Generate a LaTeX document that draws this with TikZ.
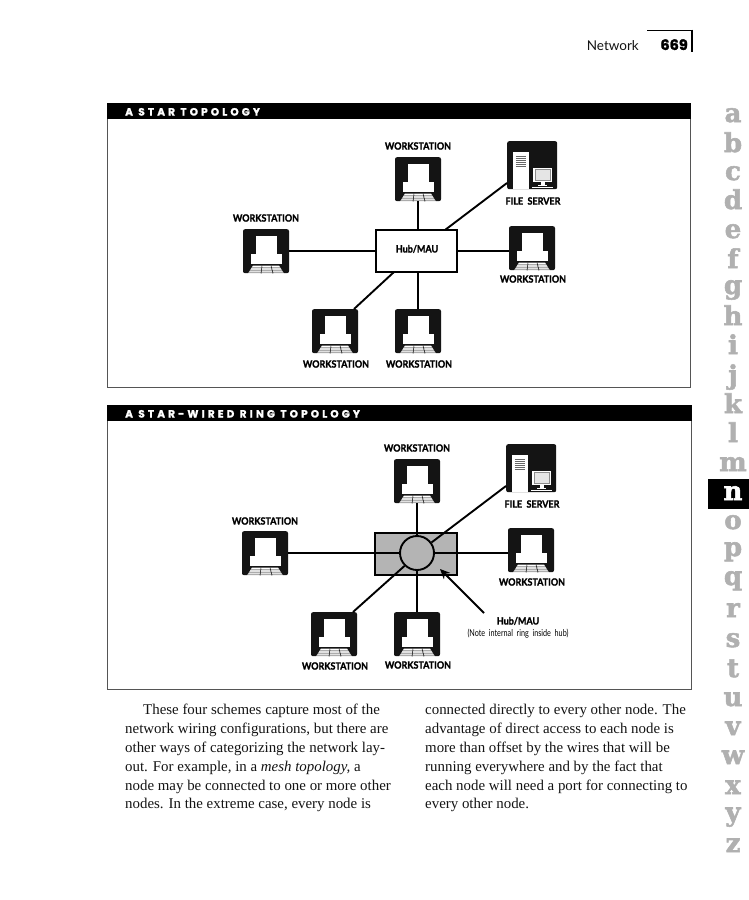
\documentclass[tikz,border=0pt]{standalone}
\usepackage{fontspec}
\usetikzlibrary{arrows.meta}
\setmainfont{Liberation Serif}
\newfontfamily\labfont[BoldFeatures={FakeBold=1.6}]{Lato}
\newfontfamily\titlefont[LetterSpace=30,BoldFeatures={FakeBold=1.5}]{Poppins}
\newfontfamily\numfont[BoldFeatures={FakeBold=1.5}]{Poppins}
\newfontfamily\sidefont[BoldFeatures={FakeBold=2}]{DejaVu Serif}
\definecolor{inkblack}{HTML}{141414}
\definecolor{sidegray}{HTML}{B0B0B0}
\definecolor{hubgray}{HTML}{B4B4B4}
\definecolor{framegray}{HTML}{555555}
\tikzset{
  wsbody/.style={draw=none,fill=inkblack,rounded corners=2pt,minimum width=46pt,minimum height=44pt,inner sep=0pt,anchor=north},
  srvbody/.style={draw=none,fill=inkblack,rounded corners=2pt,minimum width=50pt,minimum height=48pt,inner sep=0pt,anchor=north west},
  lab/.style={font=\labfont\bfseries\fontsize{10}{10}\selectfont,inner sep=0pt,text=black},
  note/.style={font=\labfont\fontsize{9.5}{10}\selectfont,inner sep=0pt,text=black},
  frame/.style={draw=framegray,line width=0.8pt,fill=white},
  titlebar/.style={fill=black,draw=none},
  ttl/.style={font=\titlefont\bfseries\fontsize{10.5}{11}\selectfont,text=white,inner sep=0pt,anchor=base west},
  wire/.style={draw=black,line width=1.9pt},
  hubbox/.style={draw=black,line width=1.9pt,fill=white,minimum width=81pt,minimum height=42pt,inner sep=0pt},
  body/.style={font=\fontsize{14.9}{16}\selectfont,inner sep=0pt,anchor=base west,text=inkblack},
  side/.style={font=\sidefont\bfseries\fontsize{26}{26}\selectfont,text=sidegray,inner sep=0pt,anchor=base},
}
% workstation icon: #1 name, #2 centre x, #3 top y
\newcommand{\wsicon}[3]{%
  \node[wsbody] (#1) at (#2,#3) {};
  \begin{scope}[shift={(#2,#3)}]
    \fill[white] (-10.5,7) rectangle (10.5,25);
    \fill[white] (-15.5,25) rectangle (15.5,35);
    \fill[white] (-13,36.5) -- (13,36.5) -- (18,44.6) -- (-18,44.6) -- cycle;
    \draw[inkblack,line width=0.5pt] (-14.5,38.8) -- (14.5,38.8) (-16,41) -- (16,41) (-17,43) -- (17,43)
      (-4,36.5) -- (-5,44.6) (5,36.5) -- (7,44.6);
  \end{scope}}
% server icon: #1 name, #2 left x, #3 top y
\newcommand{\srvicon}[3]{%
  \node[srvbody] (#1) at (#2,#3) {};
  \begin{scope}[shift={(#2,#3)}]
    \fill[white] (5.7,10.5) rectangle (22.3,48);
    \draw[black!60,line width=0.6pt] (8.8,15) -- (19,15) (8.8,17) -- (19,17) (8.8,19) -- (19,19) (8.8,21) -- (19,21) (8.8,23) -- (19,23) (8.8,25) -- (19,25);
    \fill[white] (26.3,26.7) rectangle (44.7,41);
    \draw[black!45,line width=0.5pt,fill=black!10] (28,28.4) rectangle (43,39.4);
    \fill[white] (33.5,41) rectangle (37.5,44);
    \fill[white] (31,43.5) rectangle (40,44.6);
    \fill[white] (25,45.5) rectangle (46,46.4);
  \end{scope}}
\newcommand{\sq}[2][0.9]{\scalebox{#1}[1]{#2}}
\begin{document}
\begin{tikzpicture}[x=1pt,y=-1pt]
\useasboundingbox (0,0) rectangle (749,900);
\fill[white] (0,0) rectangle (749,900);

% header
\node[font=\labfont\fontsize{13.5}{14}\selectfont,inner sep=0pt,anchor=base east,text=inkblack] (hdr) at (639,50) {Network};
\node[font=\numfont\bfseries\fontsize{14.5}{14}\selectfont,inner sep=0pt,anchor=base east] (pg) at (688,50) {669};
\draw[black,line width=1pt] (647,30) -- (692,30);
\draw[black,line width=2pt] (692,29.5) -- (692,52);

% ---------- star
\draw[frame] (107,103) rectangle (690,387);
\fill[titlebar] (107,103) rectangle (690.5,119);
\node[ttl] (t1) at (125,115.5) {A STAR TOPOLOGY};

\wsicon{a1}{418}{157}
\wsicon{a2}{266}{229}
\wsicon{a3}{532}{226}
\wsicon{a4}{335}{309}
\wsicon{a5}{418}{309}
\srvicon{as}{507}{141}
\node[hubbox] (hub) at (416.5,251) {};
\node[lab] at (417,249) {\sq{Hub/MAU}};
\coordinate (as1) at (507,183);
\coordinate (a41) at (354,309);
\draw[wire] (a1.south) -- (a1.south |- hub.north);
\draw[wire] (a2.east |- hub.west) -- (hub.west);
\draw[wire] (a3.west |- hub.east) -- (hub.east);
\draw[wire] (a5.north) -- (a5.north |- hub.south);
\draw[wire] (as1) -- (445,230);
\draw[wire] (a41) -- (394,272);
\node[lab] at (418,146) {\sq{WORKSTATION}};
\node[lab] at (266,218) {\sq{WORKSTATION}};
\node[lab] at (533,279) {\sq{WORKSTATION}};
\node[lab] at (336,364) {\sq{WORKSTATION}};
\node[lab] at (419,364) {\sq{WORKSTATION}};
\node[lab] at (533,201) {\sq{FILE\ \ SERVER}};

% ---------- star-wired ring
\draw[frame] (107,405) rectangle (691,689);
\fill[titlebar] (107,405) rectangle (691.5,421);
\node[ttl] (t2) at (125,417.5) {A STAR-WIRED RING TOPOLOGY};

\wsicon{b1}{417}{459}
\wsicon{b2}{265}{531}
\wsicon{b3}{531}{528}
\wsicon{b4}{334}{612}
\wsicon{b5}{417}{612}
\srvicon{bs}{506}{444}
\node[hubbox,fill=hubgray,minimum width=82pt] (rhub) at (416,554) {};
\node[draw=black,line width=1.9pt,fill=hubgray,circle,minimum size=34pt,inner sep=0pt] (ring) at (417,553) {};
\coordinate (bs1) at (506,486);
\coordinate (b41) at (353,612);
\draw[wire] (b1.south) -- (ring.north);
\draw[wire] (b2.east |- ring.west) -- (ring.west);
\draw[wire] (b3.west |- ring.east) -- (ring.east);
\draw[wire] (b5.north) -- (ring.south);
\draw[wire] (bs1) -- (ring.36);
\draw[wire] (b41) -- (ring.226);
\coordinate (arrowtail) at (484,613);
\coordinate (arrowtip) at (440,569);
\draw[line width=1.9pt,-{Stealth[length=10pt,width=9pt]}] (arrowtail) -- (arrowtip);
\node[lab] at (417,448) {\sq{WORKSTATION}};
\node[lab] at (265,521) {\sq{WORKSTATION}};
\node[lab] at (532,582) {\sq{WORKSTATION}};
\node[lab] at (335,666) {\sq{WORKSTATION}};
\node[lab] at (418,665) {\sq{WORKSTATION}};
\node[lab] at (532,504) {\sq{FILE\ \ SERVER}};
\node[lab] at (518,621) {\sq{Hub/MAU}};
\node[note] at (518,634) {\sq[0.76]{(Note\ \ internal\ \ ring\ \ inside\ \ hub)}};

% ---------- body text
\node[body] at (143,714) {These four schemes capture most of the};
\node[body] at (125,733) {network wiring configurations, but there are};
\node[body] at (125,752) {other ways of categorizing the network lay-};
\node[body] at (125,771) {out. For example, in a \textit{mesh topology,} a};
\node[body] at (125,790) {node may be connected to one or more other};
\node[body] at (125,808) {nodes. In the extreme case, every node is};
\node[body] at (425,714) {connected directly to every other node. The};
\node[body] at (425,733) {advantage of direct access to each node is};
\node[body] at (425,752) {more than offset by the wires that will be};
\node[body] at (425,771) {running everywhere and by the fact that};
\node[body] at (425,790) {each node will need a port for connecting to};
\node[body] at (425,808) {every other node.};

% ---------- side index
\fill[black] (708,479) rectangle (749,509);
\foreach \c/\b in {a/122,b/152,c/180,d/209,e/238,f/268,g/294,h/325,i/354,j/384,k/413,l/442,m/471,o/529,p/556,q/585,r/617,s/647,t/677,u/706,v/735,w/764,x/794,y/821,z/852}{
  \node[side] at (733,\b) {\c};
}
\node[side,text=white] at (733,500) {n};
\end{tikzpicture}
\end{document}
